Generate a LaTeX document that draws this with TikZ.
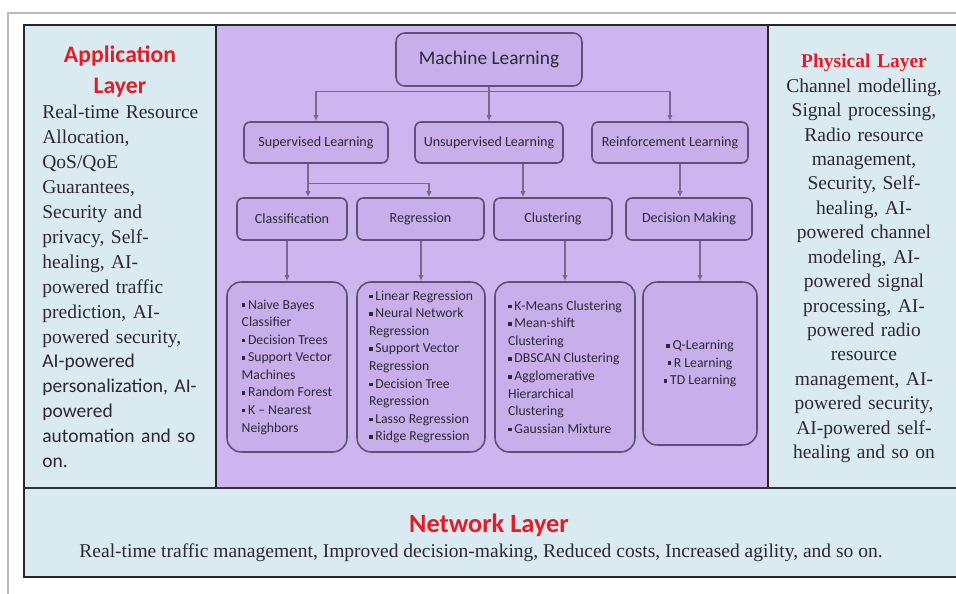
\documentclass[tikz,border=0pt]{standalone}
\usepackage{fontspec}
\setmainfont{Liberation Serif}
\newfontfamily\carlito{Carlito}
\usetikzlibrary{calc,arrows.meta}

\definecolor{layerblue}{RGB}{217,234,241}
\definecolor{mlpurple}{RGB}{205,182,239}
\definecolor{boxpurple}{RGB}{200,175,235}
\definecolor{boxedge}{RGB}{96,80,118}
\definecolor{layerred}{RGB}{228,28,40}
\definecolor{inktext}{RGB}{45,40,52}

% small square bullet for the lists
\newcommand{\sqbul}{\rule[0.3ex]{0.55ex}{0.55ex}\hspace{0.2em}}

\tikzset{
  mlbox/.style={draw=boxedge, fill=boxpurple, line width=0.9pt, rounded corners=3.5pt,
    text=inktext, inner sep=1pt, font=\carlito\fontsize{8}{10}\selectfont},
  listbox/.style={mlbox, rounded corners=8pt, align=left, font=\carlito\fontsize{7.8}{10}\selectfont},
  trunk/.style={draw=boxedge!85, line width=0.6pt},
  link/.style={trunk, -{Latex[length=3.5pt,width=3pt]}},
}

\begin{document}
\begin{tikzpicture}[x=0.02cm,y=-0.02cm]
  \useasboundingbox (0,0) rectangle (956,594);

  % Frame and layer backgrounds
  \draw[gray!55, line width=0.6pt] (8,13) rectangle (1000,640);
  \fill[layerblue] (24,25) rectangle (960,577);
  \fill[mlpurple] (216,25) rectangle (768,488);
  \draw[black!85, line width=0.7pt] (216,25) -- (216,488) (768,25) -- (768,488);
  \draw[black!80, line width=1.6pt] (24,488) -- (960,488);
  \draw[black!85, line width=1.1pt] (24,25) rectangle (960,577);

  % Application layer
  \node[anchor=north, inner sep=0, text=layerred, align=center,
    font=\carlito\bfseries\fontsize{13.5}{17.6}\selectfont] (apptitle) at (120,45.5) {Application\\Layer};
  \node[anchor=north west, inner sep=0, text=inktext, text width=3.5cm, align=left,
    font=\rmfamily\fontsize{11.1}{14.2}\selectfont] (apptext) at (42,104.6)
    {Real-time Resource\\ Allocation,\\ QoS/QoE\\ Guarantees,\\ Security and\\ privacy, Self-\\
     healing, AI-\\ powered traffic\\ prediction, AI-\\ powered security,\\ {\carlito AI-powered\\
     personalization, AI-\\ powered\\ automation and so\\ on.}};

  % Physical layer
  \node[anchor=north, inner sep=0, text=inktext, text width=3.7cm, align=center,
    font=\rmfamily\fontsize{11.1}{13.9}\selectfont] (phytext) at (864,54)
    {{\color{layerred}\bfseries Physical Layer}\\ Channel modelling,\\ Signal processing,\\ Radio resource\\
     management,\\ Security, Self-\\ healing, AI-\\ powered channel\\ modeling, AI-\\ powered signal\\
     processing, AI-\\ powered radio\\ resource\\ management, AI-\\ powered security,\\
     AI-powered self-\\ healing and so on};

  % Network layer
  \node[text=layerred, font=\carlito\bfseries\fontsize{15}{18}\selectfont] (nettitle) at (489,525) {Network Layer};
  \node[text=inktext, font=\fontsize{11.1}{14}\selectfont] (nettext) at (481,553)
    {Real-time traffic management, Improved decision-making, Reduced costs, Increased agility, and so on.};

  % Machine learning tree
  \node[mlbox, minimum width=3.72cm, minimum height=1.06cm, rounded corners=5pt,
    font=\carlito\fontsize{11}{13}\selectfont] (ml) at (489,59.5) {Machine Learning};
  \node[mlbox, minimum width=2.88cm, minimum height=0.82cm] (sup) at (316,142.5) {Supervised Learning};
  \node[mlbox, minimum width=2.96cm, minimum height=0.82cm] (unsup) at (489,142.5) {Unsupervised Learning};
  \node[mlbox, minimum width=3.12cm, minimum height=0.82cm] (reinf) at (670,142.5) {Reinforcement Learning};

  \node[mlbox, minimum width=2.2cm, minimum height=0.84cm] (cls) at (292,219) {Classification};
  \node[mlbox, minimum width=2.54cm, minimum height=0.84cm] (reg) at (420.5,219) {Regression};
  \node[mlbox, minimum width=2.36cm, minimum height=0.84cm] (clu) at (553,219) {Clustering};
  \node[mlbox, minimum width=2.52cm, minimum height=0.84cm] (dec) at (689,219) {Decision Making};

  % Algorithm lists
  \node[listbox, minimum width=2.4cm, minimum height=3.4cm] (clist) at (287,367)
    {\sqbul Naive Bayes\\ Classifier\\ \sqbul Decision Trees\\ \sqbul Support Vector\\ Machines\\
     \sqbul Random Forest\\ \sqbul K – Nearest\\ Neighbors};
  \node[listbox, minimum width=2.56cm, minimum height=3.4cm] (rlist) at (421,367)
    {\sqbul Linear Regression\\ \sqbul Neural Network\\ Regression\\ \sqbul Support Vector\\ Regression\\
     \sqbul Decision Tree\\ Regression\\ \sqbul Lasso Regression\\ \sqbul Ridge Regression};
  \node[listbox, minimum width=2.8cm, minimum height=3.4cm] (culist) at (565,367)
    {\sqbul K-Means Clustering\\ \sqbul Mean-shift\\ Clustering\\ \sqbul DBSCAN Clustering\\
     \sqbul Agglomerative\\ Hierarchical\\ Clustering\\ \sqbul Gaussian Mixture};
  \node[listbox, align=center, minimum width=2.28cm, minimum height=3.26cm] (dlist) at (700,363.5)
    {\sqbul Q-Learning\\ \sqbul R Learning\\ \sqbul TD Learning};

  % Connectors
  \draw[trunk] (ml.south) -- ++(0,5) coordinate (mlj);
  \draw[link] (mlj) -| (sup.north);
  \draw[link] (mlj) -| (reinf.north);
  \draw[link] (mlj) -- (unsup.north);

  \coordinate (supj) at ($(sup.south)+(-8,20)$);
  \draw[trunk] ($(sup.south)+(-8,0)$) -- (supj);
  \draw[link] (supj) -- (supj |- cls.north);
  \draw[link] (supj) -| ($(reg.north)+(8.5,0)$);

  \coordinate (unsj) at ($(unsup.south)+(34,0)$);
  \draw[link] (unsj) -- (unsj |- clu.north);
  \coordinate (reij) at ($(reinf.south)+(10,0)$);
  \draw[link] (reij) -- (reij |- dec.north);

  \draw[link] (clist.north |- cls.south) -- (clist.north);
  \draw[link] (rlist.north |- reg.south) -- (rlist.north);
  \draw[link] (culist.north |- clu.south) -- (culist.north);
  \draw[link] (dlist.north |- dec.south) -- (dlist.north);
\end{tikzpicture}
\end{document}
